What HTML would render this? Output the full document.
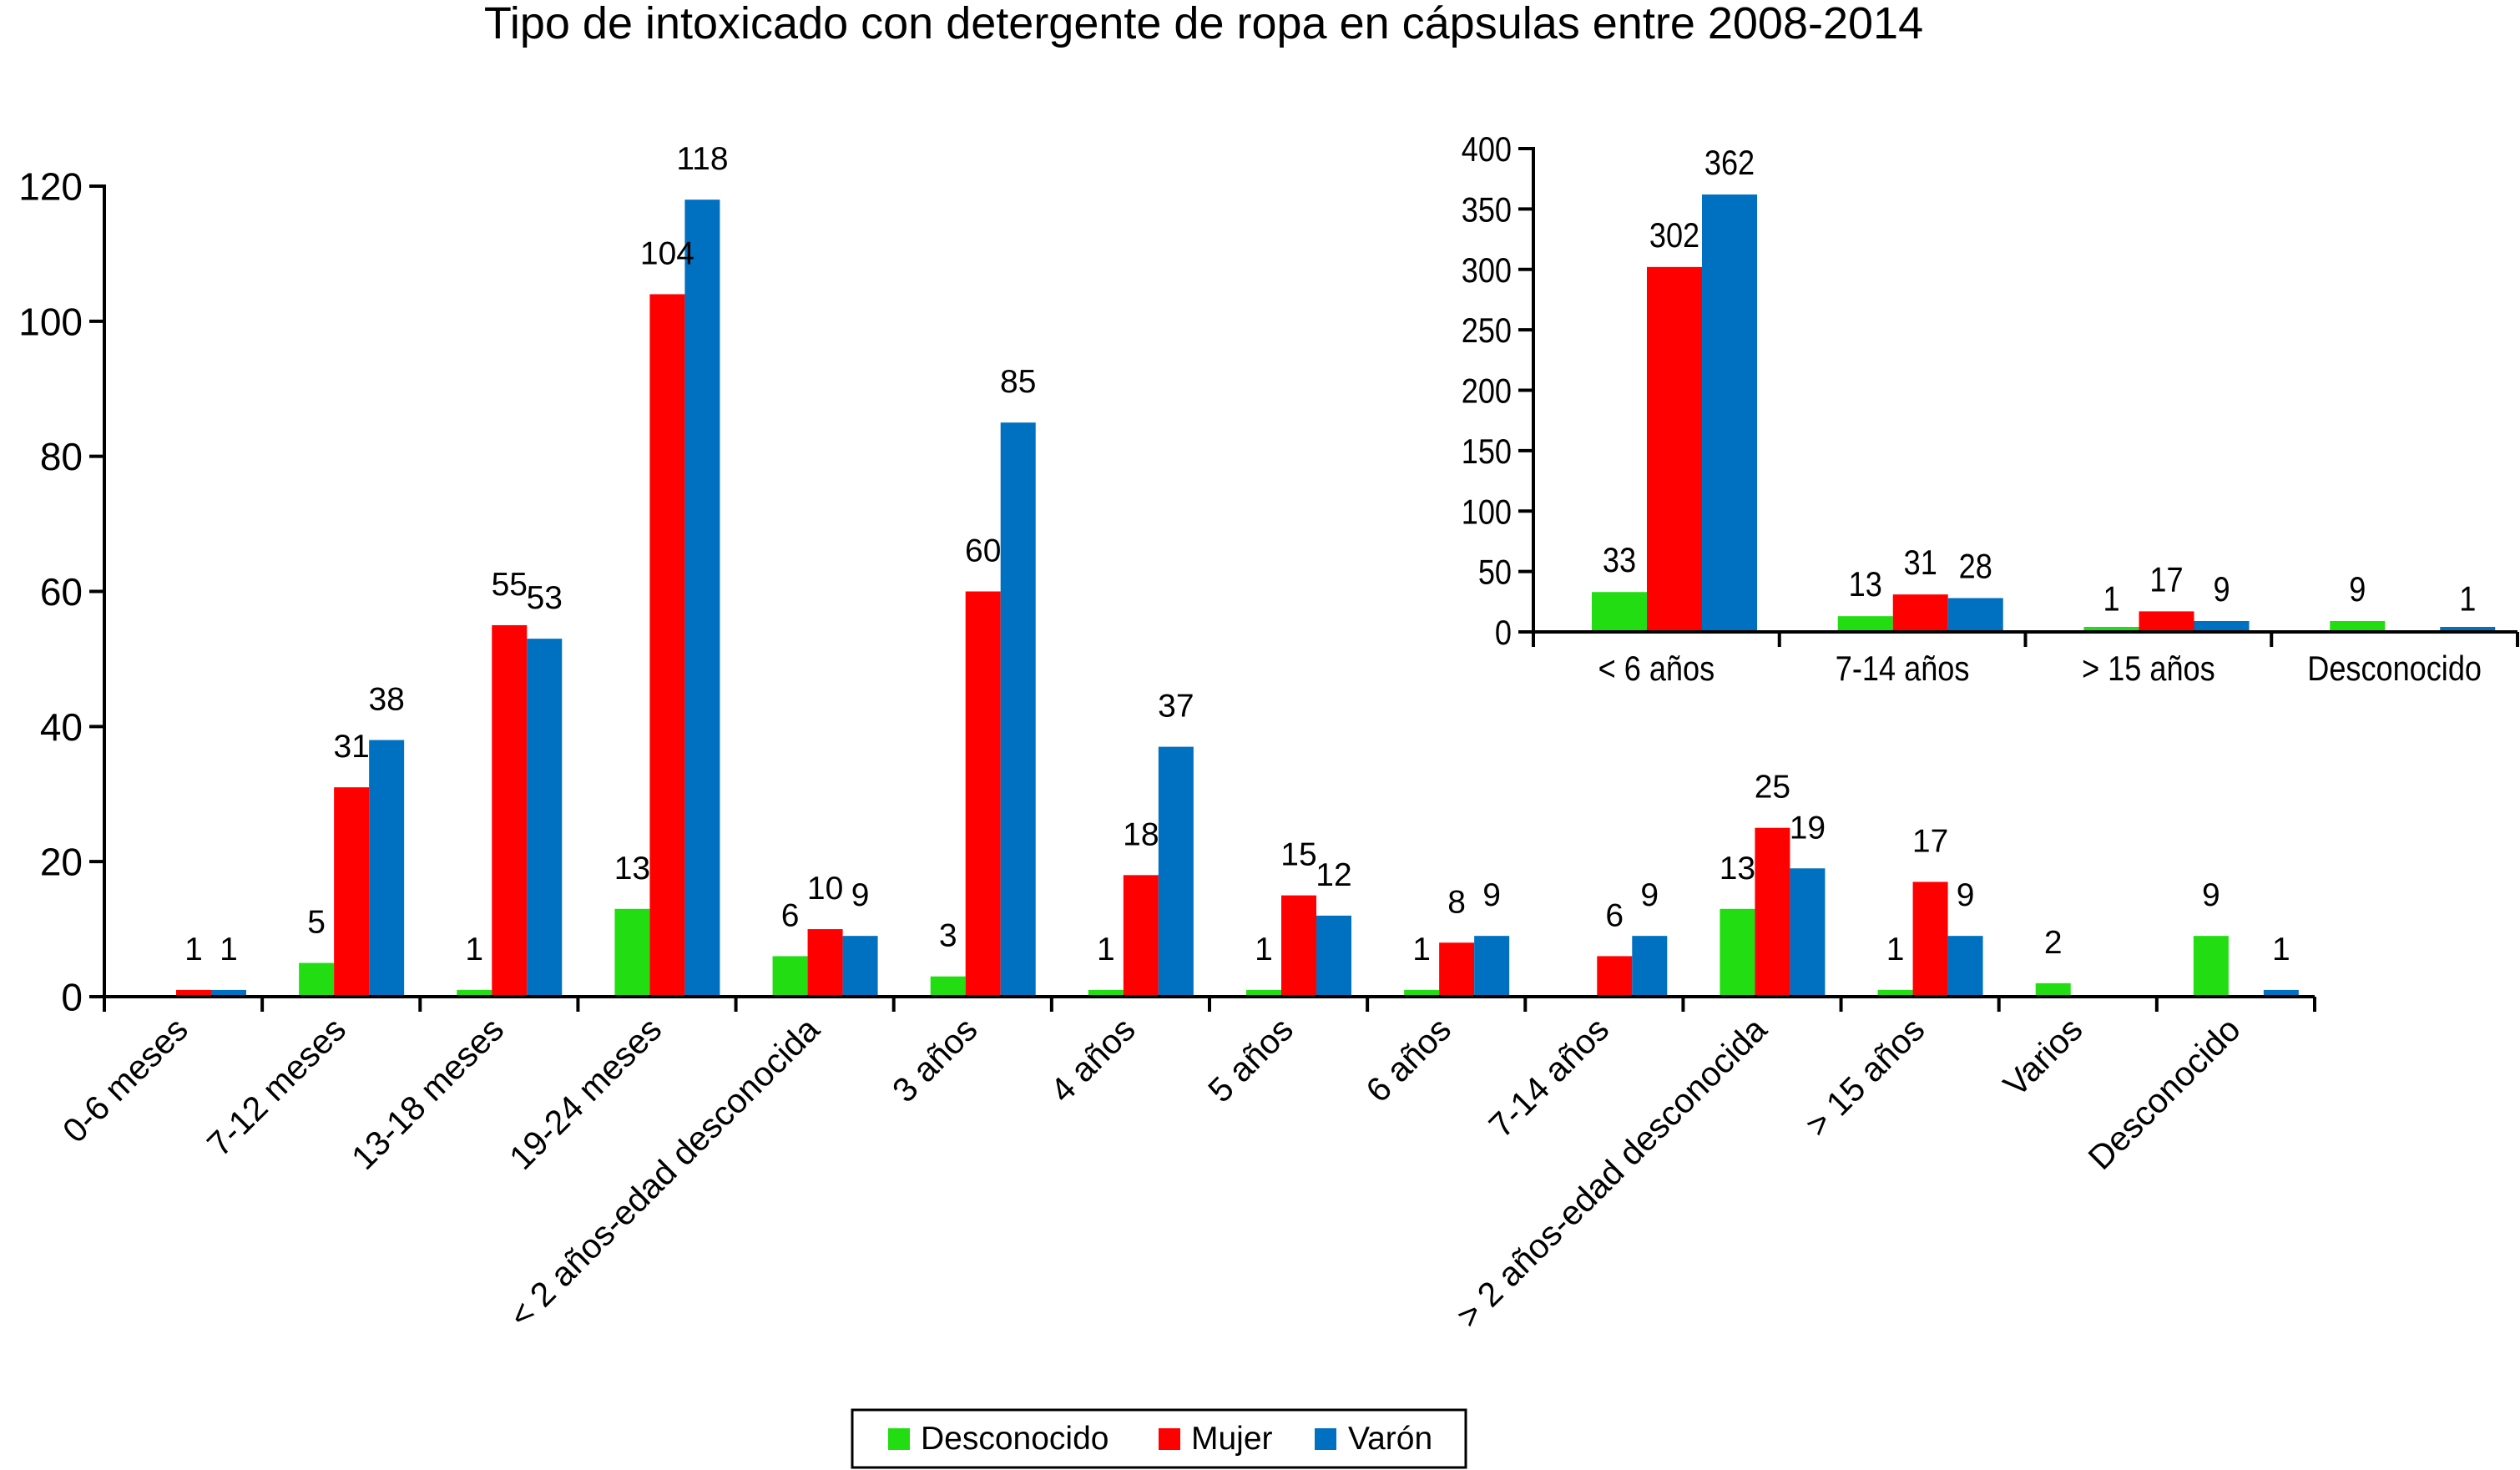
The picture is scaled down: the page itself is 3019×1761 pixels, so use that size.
<!DOCTYPE html>
<html><head><meta charset="utf-8">
<style>
html,body{margin:0;padding:0;background:#fff;}
svg{display:block;font-family:"Liberation Sans",sans-serif;}
</style></head>
<body>
<svg id="chart" width="3019" height="1761" viewBox="0 0 3019 1761" xmlns="http://www.w3.org/2000/svg">
<text x="1442" y="46" font-size="54" text-anchor="middle">Tipo de intoxicado con detergente de ropa en cápsulas entre 2008-2014</text>
<g id="main"></g>
<g id="inset"></g>
<g>
<rect x="1021" y="1689" width="735" height="69" fill="#fff" stroke="#000" stroke-width="3"/>
<g><rect x="1064" y="1711" width="26" height="26" fill="#22DD11"/><text x="1103" y="1736" font-size="39">Desconocido</text></g>
<g><rect x="1388" y="1711" width="26" height="26" fill="#FF0000"/><text x="1427" y="1736" font-size="39">Mujer</text></g>
<g><rect x="1575" y="1711" width="26" height="26" fill="#0070C0"/><text x="1615" y="1736" font-size="39">Varón</text></g>
</g>
</svg>
<script>
const categories = ["0-6 meses","7-12 meses","13-18 meses","19-24 meses","< 2 años-edad desconocida","3 años","4 años","5 años","6 años","7-14 años","> 2 años-edad desconocida","> 15 años","Varios","Desconocido"];
const desconocido = [0,5,1,13,6,3,1,1,1,0,13,1,2,9];
const mujer = [1,31,55,104,10,60,18,15,8,6,25,17,0,0];
const varon = [1,38,53,118,9,85,37,12,9,9,19,9,0,1];
const yTicks = [0,20,40,60,80,100,120];

const insetCategories = ["< 6 años","7-14 años","> 15 años","Desconocido"];
const insetDesconocido = [33,13,1,9];
const insetMujer = [302,31,17,0];
const insetVaron = [362,28,9,1];
const insetTicks = [0,50,100,150,200,250,300,350,400];

const NS = "http://www.w3.org/2000/svg";
const colors = ["#22DD11","#FF0000","#0070C0"];
const seriesNames = ["desconocido","mujer","varon"];
function mk(parent, tag, attrs, text){
  const e = document.createElementNS(NS, tag);
  for (const k in attrs) e.setAttribute(k, attrs[k]);
  if (text !== undefined) e.textContent = text;
  parent.appendChild(e);
  return e;
}

function drawChart(g, cfg){
  const {x0, x1, y0, yTop, maxV, cats, series, ticks, gapL, barW, tickFont, valFont, catFont, rotate, family, valGap, minH, sx} = cfg;
  const gw = (x1 - x0) / cats.length;
  const ys = v => y0 - (v / maxV) * (y0 - yTop);
  function txt(attrs, s){
    const t = mk(g, "text", Object.assign({"font-family": family}, attrs), s);
    if (sx !== 1) {
      const x = parseFloat(attrs.x);
      t.setAttribute("transform", `translate(${x} 0) scale(${sx} 1) translate(${-x} 0)`);
    }
    return t;
  }
  ticks.forEach(t => {
    const l = mk(g, "line", {x1: x0 - 18, x2: x0, y1: ys(t), y2: ys(t), stroke: "#000", "stroke-width": 4});
    
    
    const tx = txt({x: x0 - 26, y: ys(t) + tickFont * 0.36, "font-size": tickFont, "text-anchor": "end"}, String(t));
    
    
  });
  series.forEach((vals, si) => {
    vals.forEach((v, i) => {
      const bx = x0 + i * gw + gapL + si * barW;
      if (v > 0) {
        const top = Math.min(ys(v), y0 - minH);
        const r = mk(g, "rect", {x: bx, y: top, width: barW, height: y0 - top, fill: colors[si]});
        
        
      }
    });
  });
  series.forEach((vals, si) => {
    vals.forEach((v, i) => {
      const bx = x0 + i * gw + gapL + si * barW;
      if (v > 0) {
        const t = txt({x: bx + barW / 2, y: ys(v) - valGap, "font-size": valFont, "text-anchor": "middle"}, String(v));
        
        
      }
    });
  });
  const ax = mk(g, "line", {x1: x0, x2: x0, y1: yTop - 2, y2: y0 + 2, stroke: "#000", "stroke-width": 4});
  
  
  const xa = mk(g, "line", {x1: x0, x2: x1, y1: y0, y2: y0, stroke: "#000", "stroke-width": 4});
  
  
  for (let i = 0; i <= cats.length; i++) {
    const xt = mk(g, "line", {x1: x0 + i * gw, x2: x0 + i * gw, y1: y0, y2: y0 + 18, stroke: "#000", "stroke-width": 4});
    
    
  }
  cats.forEach((c, i) => {
    const cx = x0 + i * gw + gw / 2;
    let t;
    if (rotate) {
      const px = cx + 8, py = y0 + 42;
      t = mk(g, "text", {x: px, y: py, "font-size": catFont, "text-anchor": "end", transform: `rotate(-45 ${px} ${py})`, "font-family": family}, c);
    } else {
      t = txt({x: cx, y: y0 + 58, "font-size": catFont, "text-anchor": "middle"}, c);
    }
    
    
  });
}

drawChart(document.getElementById("main"), {
  x0: 125, x1: 2773, y0: 1194, yTop: 223, maxV: 120, cats: categories,
  series: [desconocido, mujer, varon], ticks: yTicks,
  gapL: 44, barW: 42, tickFont: 46, valFont: 39, catFont: 41, rotate: true,
  family: '"Liberation Sans", sans-serif', valGap: 36, minH: 0, sx: 1
});
drawChart(document.getElementById("inset"), {
  x0: 1837, x1: 3016, y0: 757, yTop: 178, maxV: 400, cats: insetCategories,
  series: [insetDesconocido, insetMujer, insetVaron], ticks: insetTicks,
  gapL: 70, barW: 66, tickFont: 42, valFont: 42, catFont: 42, rotate: false,
  family: '"Liberation Sans", sans-serif', valGap: 24, minH: 6, sx: 0.86
});
</script>
</body></html>
